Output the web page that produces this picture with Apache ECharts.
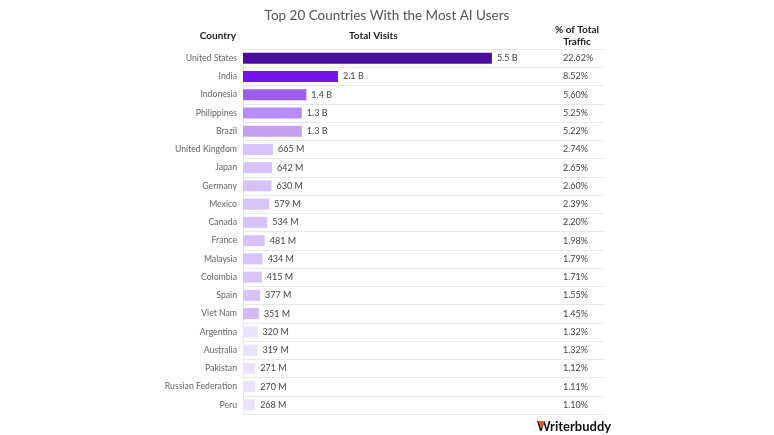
<!DOCTYPE html>
<html>
<head>
<meta charset="utf-8">
<script src="https://cdn.jsdelivr.net/npm/echarts@6/dist/echarts.min.js"></script>
<style>html,body{margin:0;padding:0;background:#fff}#c{width:774px;height:435px}</style>
</head>
<body>
<div id="c"></div>
<script>
var countries = ["United States","India","Indonesia","Philippines","Brazil","United Kingdom","Japan","Germany","Mexico","Canada","France","Malaysia","Colombia","Spain","Viet Nam","Argentina","Australia","Pakistan","Russian Federation","Peru"];
var visitsM = [5500,2100,1400,1300,1300,665,642,630,579,534,481,434,415,377,351,320,319,271,270,268];
var pctLabels = ["22.62%","8.52%","5.60%","5.25%","5.22%","2.74%","2.65%","2.60%","2.39%","2.20%","1.98%","1.79%","1.71%","1.55%","1.45%","1.32%","1.32%","1.12%","1.11%","1.10%"];
var barColors = ["#4B0C9E","#7314E8","#9B5DEA","#B98BF6","#C49FF2","#D8C3F8","#D8C3F8","#D8C3F8","#D8C3F8","#D8C3F8","#D8C3F8","#D8C3F8","#D8C3F8","#D8C3F8","#D3B9F6","#ECE2FB","#ECE2FB","#ECE2FB","#ECE2FB","#ECE2FB"];

var FONT = "Lato, 'Open Sans', sans-serif";
var chart = echarts.init(document.getElementById('c'), null, {renderer:'canvas'});
chart.setOption({
  animation: false,
  textStyle: {fontFamily: FONT},
  title: {
    text: "Top 20 Countries With the Most AI Users",
    left: 'center', top: 4,
    textStyle: {fontSize: 13.5, fontWeight: 'normal', color: '#555', fontFamily: FONT}
  },
  grid: {left: 243, right: 169, top: 49, bottom: 21, containLabel: false},
  xAxis: {
    type: 'value', min: 0, max: 8000, show: false
  },
  yAxis: [{
    type: 'category', inverse: true, data: countries,
    axisLine: {show: true, lineStyle: {color: '#e6e6e6'}},
    axisTick: {show: false},
    axisLabel: {color: '#666', fontSize: 8.7, margin: 6, fontFamily: FONT},
    splitLine: {show: true, lineStyle: {color: '#e8e8e8', width: 1}}
  },{
    type: 'category', inverse: true, data: pctLabels, position: 'right',
    axisLine: {show: false}, axisTick: {show: false},
    axisLabel: {color: '#444', fontSize: 9, margin: -42, align: 'left', fontFamily: FONT}
  }],
  series: [{
    type: 'bar',
    data: visitsM.map(function(v,i){return {value:v, itemStyle:{color:barColors[i]}};}),
    barWidth: 11,
    label: {
      show: true, position: 'right', distance: 5, color: '#444', fontSize: 9, fontFamily: FONT,
      formatter: function(p){ return p.value >= 1000 ? (p.value/1000).toFixed(1)+' B' : p.value+' M'; }
    }
  }],
  graphic: [
    {type:'text', right: 774-236, top: 31, style:{text:'Country', fill:'#222', font:'bold 10px '+FONT, textAlign:'right'}},
    {type:'text', left: 349, top: 31, style:{text:'Total Visits', fill:'#222', font:'bold 10px '+FONT}},
    {type:'text', left: 555, top: 24, style:{text:'% of Total\nTraffic', fill:'#222', font:'bold 10px '+FONT, textAlign:'center', lineHeight: 12, align:'center'}},
    {type:'text', left: 537, top: 420, style:{text:'Writerbuddy', fill:'#111', font:'bold 13px '+FONT}},
    {type:'polygon', shape:{points:[[538,421],[545,421],[541.5,428]]}, style:{fill:'#F25C1F'}}
  ]
});
</script>
</body>
</html>
